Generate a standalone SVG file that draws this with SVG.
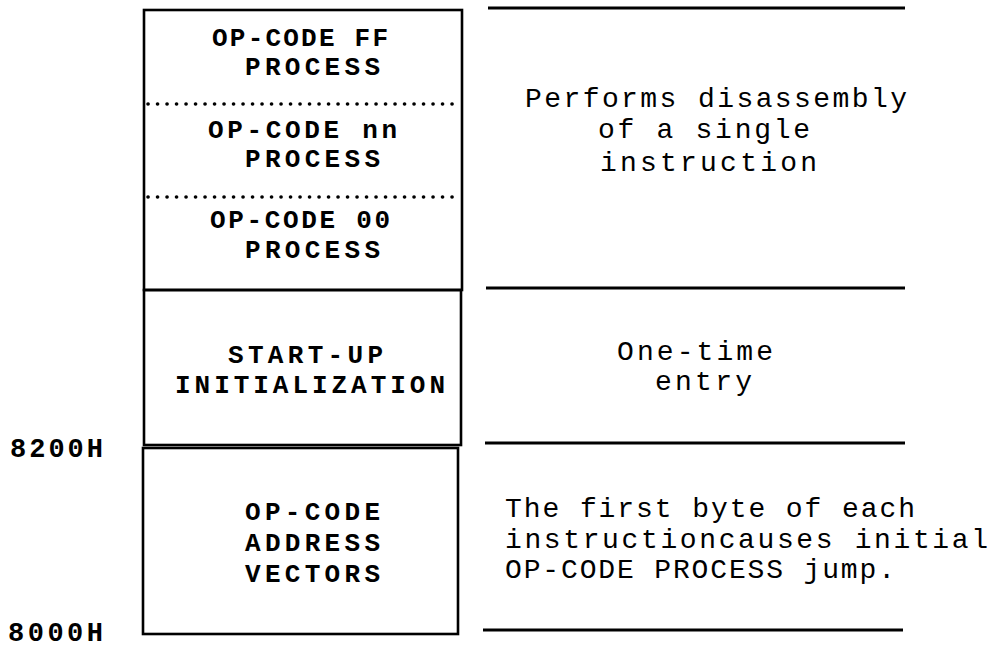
<svg xmlns="http://www.w3.org/2000/svg" width="1001" height="647" viewBox="0 0 1001 647">
  <style>
    .box { fill: none; stroke: #000; stroke-width: 2.6; }
    .sep { stroke: #000; stroke-width: 3.6; stroke-dasharray: 0.1 9.4; stroke-linecap: round; }
    .rule { stroke: #000; stroke-width: 3; }
    .lbl { font-family: "Liberation Mono", "Courier New", monospace; font-size: 26px; font-weight: bold; fill: #000; }
    .note { font-family: "Liberation Mono", "Courier New", monospace; font-size: 28px; fill: #000; }
    .addr { font-family: "Liberation Mono", "Courier New", monospace; font-size: 27px; font-weight: bold; fill: #000; }
  </style>

  <!-- memory map blocks -->
  <g id="opcode-process">
    <rect class="box" x="144" y="10" width="318" height="280"/>
    <line class="sep" x1="148" y1="104" x2="460" y2="104"/>
    <line class="sep" x1="148" y1="197" x2="460" y2="197"/>
    <text class="lbl" x="212" y="46" textLength="176" lengthAdjust="spacing">OP-CODE FF</text>
    <text class="lbl" x="245" y="75" textLength="135" lengthAdjust="spacing">PROCESS</text>
    <text class="lbl" x="208" y="138" textLength="189" lengthAdjust="spacing">OP-CODE nn</text>
    <text class="lbl" x="245" y="167" textLength="135" lengthAdjust="spacing">PROCESS</text>
    <text class="lbl" x="210" y="228" textLength="180" lengthAdjust="spacing">OP-CODE 00</text>
    <text class="lbl" x="245" y="258" textLength="135" lengthAdjust="spacing">PROCESS</text>
  </g>

  <g id="startup-init">
    <rect class="box" x="144" y="290" width="317" height="155"/>
    <text class="lbl" x="228" y="363" textLength="155" lengthAdjust="spacing">START-UP</text>
    <text class="lbl" x="175" y="393" textLength="270" lengthAdjust="spacing">INITIALIZATION</text>
  </g>

  <g id="address-vectors">
    <rect class="box" x="143" y="448" width="315" height="186"/>
    <text class="lbl" x="245" y="520" textLength="135" lengthAdjust="spacing">OP-CODE</text>
    <text class="lbl" x="245" y="551" textLength="135" lengthAdjust="spacing">ADDRESS</text>
    <text class="lbl" x="245" y="582" textLength="135" lengthAdjust="spacing">VECTORS</text>
  </g>

  <!-- address markers -->
  <g id="addresses">
    <text class="addr" x="10" y="457" textLength="93" lengthAdjust="spacing">8200H</text>
    <text class="addr" x="8" y="641" textLength="95" lengthAdjust="spacing">8000H</text>
  </g>

  <!-- description column rules -->
  <g id="connectors">
    <line class="rule" x1="488" y1="8" x2="905" y2="8"/>
    <line class="rule" x1="486" y1="288" x2="905" y2="288"/>
    <line class="rule" x1="485" y1="443" x2="905" y2="443"/>
    <line class="rule" x1="483" y1="630" x2="903" y2="630"/>
  </g>

  <g id="desc-process">
    <text class="note" x="525" y="107" textLength="382" lengthAdjust="spacing">Performs disassembly</text>
    <text class="note" x="598" y="138" textLength="212" lengthAdjust="spacing">of a single</text>
    <text class="note" x="600" y="171" textLength="217" lengthAdjust="spacing">instruction</text>
  </g>

  <g id="desc-startup">
    <text class="note" x="617" y="360" textLength="156" lengthAdjust="spacing">One-time</text>
    <text class="note" x="655" y="390" textLength="97" lengthAdjust="spacing">entry</text>
  </g>

  <g id="desc-vectors">
    <text class="note" x="505" y="517" textLength="410" lengthAdjust="spacing">The first byte of each</text>
    <text class="note" x="505" y="548" textLength="483" lengthAdjust="spacing">instructioncauses initial</text>
    <text class="note" x="505" y="578" textLength="390" lengthAdjust="spacing">OP-CODE PROCESS jump.</text>
  </g>
</svg>
